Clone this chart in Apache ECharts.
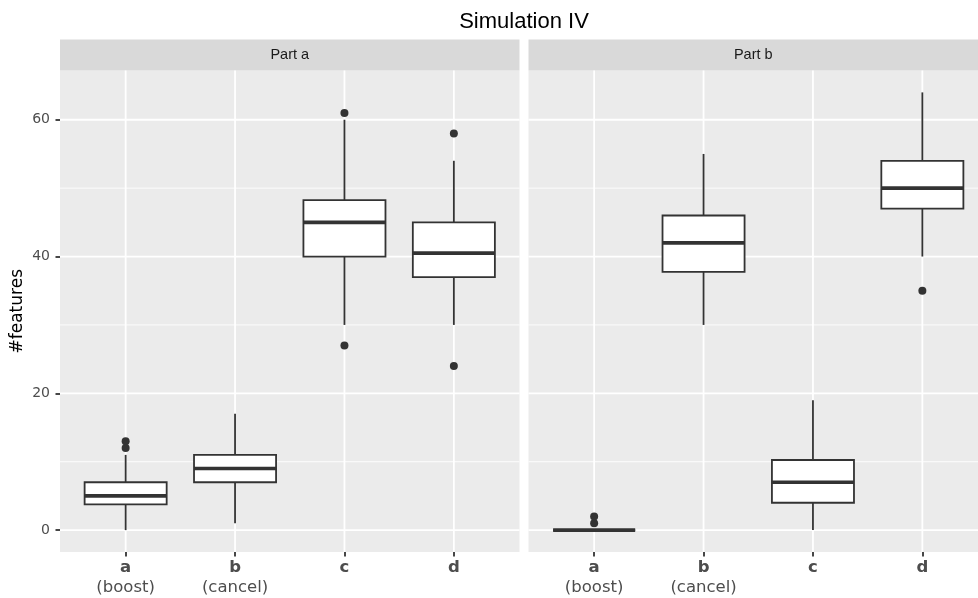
<!DOCTYPE html>
<html><head><meta charset="utf-8">
<script src="https://cdn.jsdelivr.net/npm/echarts@6/dist/echarts.min.js"></script>
<style>html,body{margin:0;padding:0;background:#fff}#c{width:978px;height:598px}</style>
</head><body><div id="c"></div>
<script>
const chartTitle = 'Simulation IV';
const yAxisTitle = '#features';
const panels = ['Part a', 'Part b'];
const categories = ['a', 'b', 'c', 'd'];
const categoryNotes = ['(boost)', '(cancel)', '', ''];
const yTicks = [0, 20, 40, 60];
const yMinorTicks = [10, 30, 50];
// boxes: [min, q1, median, q3, max] per category
const partABoxes = [[0, 3.75, 5, 7, 11], [1, 7, 9, 11, 17], [30, 40, 45, 48.25, 60], [30, 37, 40.5, 45, 54]];
const partAOutliers = [['a', 12], ['a', 13], ['c', 61], ['c', 27], ['d', 58], ['d', 24]];
const partBBoxes = [[0, 0, 0, 0, 0], [30, 37.75, 42, 46, 55], [0, 4, 7, 10.25, 19], [40, 47, 50, 54, 64]];
const partBOutliers = [['a', 1], ['a', 2], ['d', 35]];

const INK = '#333333';
const catPos = categories.map((c, i) => i + 1);
const PANEL_W = 459.5;
const grids = [
  { left: 60, width: PANEL_W, top: 70.5, bottom: 46 },
  { left: 528.5, width: PANEL_W, top: 70.5, bottom: 46 }
];

function renderBox(params, api) {
  const x = api.value(0);
  const lo = api.value(1), q1 = api.value(2), med = api.value(3), q3 = api.value(4), hi = api.value(5);
  const half = 0.375;
  const tl = api.coord([x - half, q3]);
  const br = api.coord([x + half, q1]);
  const cLo = api.coord([x, lo]);
  const cHi = api.coord([x, hi]);
  const mL = api.coord([x - half, med]);
  const mR = api.coord([x + half, med]);
  const st = { stroke: INK, lineWidth: 1.8, fill: null };
  return {
    type: 'group',
    children: [
      { type: 'line', shape: { x1: cLo[0], y1: cLo[1], x2: cLo[0], y2: br[1] }, style: st },
      { type: 'line', shape: { x1: cHi[0], y1: tl[1], x2: cHi[0], y2: cHi[1] }, style: st },
      { type: 'rect', shape: { x: tl[0], y: tl[1], width: br[0] - tl[0], height: br[1] - tl[1] },
        style: { stroke: INK, lineWidth: 1.8, fill: '#ffffff' } },
      { type: 'line', shape: { x1: mL[0], y1: mL[1], x2: mR[0], y2: mR[1] }, style: { stroke: INK, lineWidth: 3.6 } }
    ]
  };
}

function renderGridLine(params, api) {
  const cs = params.coordSys;
  const kind = api.value(0), v = api.value(1);
  if (kind === 2) {
    const p = api.coord([v, 0]);
    return { type: 'line', shape: { x1: p[0], y1: cs.y, x2: p[0], y2: cs.y + cs.height },
      style: { stroke: '#ffffff', lineWidth: 1.8 } };
  }
  const p = api.coord([1, v]);
  return { type: 'line', shape: { x1: cs.x, y1: p[1], x2: cs.x + cs.width, y2: p[1] },
    style: { stroke: '#ffffff', lineWidth: kind === 0 ? 1.8 : 0.9 } };
}

const gridLineData = []
  .concat(yTicks.map(v => [0, v]))
  .concat(yMinorTicks.map(v => [1, v]))
  .concat(catPos.map(v => [2, v]));

const xAxes = grids.map((g, i) => ({
  type: 'value', gridIndex: i, min: 0.4, max: 4.6,
  splitLine: { show: false },
  axisLine: { show: false, onZero: false },
  axisTick: { show: true, customValues: catPos, length: 4.5, lineStyle: { color: INK, width: 1.8 } },
  axisLabel: {
    customValues: catPos, margin: 6, color: '#4D4D4D',
    formatter: v => {
      const k = Math.round(v) - 1;
      return categoryNotes[k] ? '{b|' + categories[k] + '}\n{n|' + categoryNotes[k] + '}' : '{b|' + categories[k] + '}';
    },
    rich: {
      b: { fontFamily: 'DejaVu Sans', fontWeight: 'bold', fontSize: 16.5, color: '#4D4D4D', lineHeight: 20 },
      n: { fontFamily: 'DejaVu Sans', fontSize: 16.5, color: '#4D4D4D', lineHeight: 20 }
    }
  }
}));

const yAxes = grids.map((g, i) => ({
  type: 'value', gridIndex: i, min: -3.2, max: 67.2,
  name: i === 0 ? yAxisTitle : '', nameLocation: 'middle', nameGap: 34, nameRotate: 90,
  nameTextStyle: { fontFamily: 'DejaVu Sans', fontSize: 17, color: '#000' },
  splitLine: { show: false },
  axisLine: { show: false, onZero: false },
  axisTick: { show: i === 0, customValues: yTicks, length: 4.5, lineStyle: { color: INK, width: 1.8 } },
  axisLabel: { show: i === 0, customValues: yTicks, margin: 10, color: '#4D4D4D', fontFamily: 'DejaVu Sans', fontSize: 14 }
}));

function toPts(list) { return list.map(o => [categories.indexOf(o[0]) + 1, o[1]]); }

const series = [];
[partABoxes, partBBoxes].forEach((boxes, i) => {
  series.push({ type: 'custom', xAxisIndex: i, yAxisIndex: i, z: 1, silent: true,
    renderItem: renderGridLine, data: gridLineData, encode: { x: -1, y: -1 } });
  series.push({ type: 'custom', xAxisIndex: i, yAxisIndex: i, z: 3,
    renderItem: renderBox, data: boxes.map((b, k) => [catPos[k]].concat(b)),
    encode: { x: 0, y: [1, 2, 3, 4, 5] } });
});
[partAOutliers, partBOutliers].forEach((pts, i) => {
  series.push({ type: 'scatter', xAxisIndex: i, yAxisIndex: i, z: 4, symbolSize: 8,
    itemStyle: { color: INK, opacity: 1 }, data: toPts(pts) });
});

const graphics = grids.map((g, i) => ({
  type: 'group',
  children: [
    { type: 'rect', shape: { x: g.left, y: 39.5, width: PANEL_W, height: 31 },
      style: { fill: '#D9D9D9' } },
    { type: 'text', x: g.left + (i === 0 ? PANEL_W : 978 - g.left) / 2, y: 55,
      style: { text: panels[i], fill: '#1A1A1A', font: '14.5px "Liberation Sans"', textAlign: 'center', textVerticalAlign: 'middle' } }
  ]
}));

const chart = echarts.init(document.getElementById('c'), null, { renderer: 'canvas' });
chart.setOption({
  animation: false,
  backgroundColor: '#ffffff',
  title: { text: chartTitle, left: 519, top: 6, textAlign: 'center',
    textStyle: { fontFamily: 'Liberation Sans', fontWeight: 'normal', fontSize: 22, color: '#000' } },
  grid: grids.map(g => Object.assign({ show: true, backgroundColor: '#EBEBEB', borderWidth: 0, outerBoundsMode: 'none' }, g)),
  xAxis: xAxes,
  yAxis: yAxes,
  series: series,
  graphic: graphics
});
</script></body></html>
